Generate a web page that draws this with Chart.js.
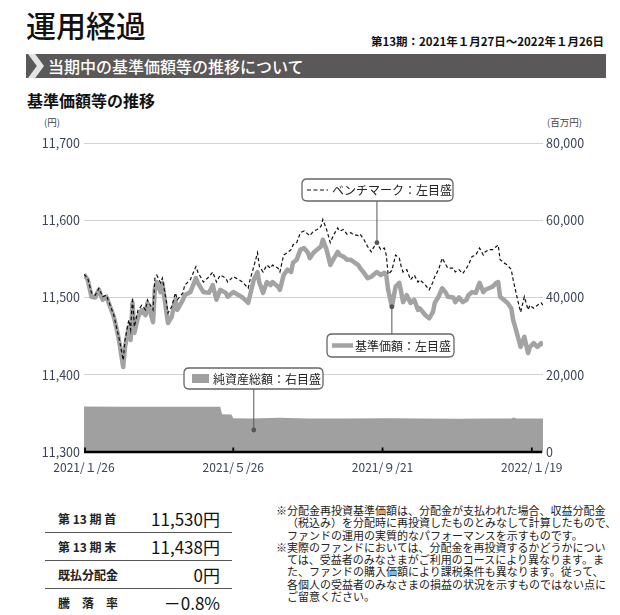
<!DOCTYPE html>
<html lang="ja">
<head>
<meta charset="utf-8">
<title>運用経過</title>
<script src="https://cdn.jsdelivr.net/npm/chart.js@4.4.0/dist/chart.umd.min.js"></script>
<style>
  body { margin: 0; background: #fff; font-family: "Noto Sans CJK JP", "Noto Sans", sans-serif; color: #111; }
  #page { position: relative; width: 620px; height: 615px; overflow: hidden; }
  .abs { position: absolute; white-space: nowrap; }
  #title { left: 26px; top: 6px; font-size: 30px; font-weight: 500; line-height: 36px; }
  #period { right: 16px; top: 34px; font-size: 11.5px; font-weight: 700; line-height: 14px; }
  #bar { left: 26px; top: 54px; width: 580px; height: 24px; background: #5a5858; }
  #chevron { left: 2px; top: 0; width: 16px; height: 24px; background: #e4e4e4;
    clip-path: polygon(0 0, 45% 0, 100% 50%, 45% 100%, 0 100%, 55% 50%); }
  #barText { left: 22px; top: 0; line-height: 24px; font-size: 16px; font-weight: 500; color: #fff; }
  #subTitle { left: 27px; top: 90px; font-size: 16px; font-weight: 700; line-height: 20px; }
  .unit { top: 116px; font-size: 9.5px; color: #444; line-height: 12px; }
  #chartBox { left: 0; top: 110px; width: 620px; height: 370px; }
  .row { left: 45px; width: 187px; height: 27px; }
  .row.line { border-bottom: 1px solid #555; }
  .row .lab { position: absolute; left: 13px; top: 0; line-height: 27px; font-size: 12px; font-weight: 700; color: #222; }
  .row .val { position: absolute; right: 12px; top: 0; line-height: 27px; font-size: 17px; color: #111; }
  #notes { left: 276px; top: 504px; width: 344px; font-size: 11px; line-height: 12.3px; color: #222; }
  #notes p { margin: 0; padding-left: 1em; text-indent: -1em; white-space: nowrap; }
</style>
</head>
<body>
<div id="page">
  <div id="title" class="abs">運用経過</div>
  <div id="period" class="abs">第13期：2021年１月27日～2022年１月26日</div>
  <div id="bar" class="abs">
    <div id="chevron" class="abs"></div>
    <div id="barText" class="abs">当期中の基準価額等の推移について</div>
  </div>
  <div id="subTitle" class="abs">基準価額等の推移</div>
  <div class="abs unit" style="left:44px;">(円)</div>
  <div class="abs unit" style="left:547px;">(百万円)</div>
  <div id="chartBox" class="abs"><canvas id="navChart"></canvas></div>

  <div class="abs row line" style="top:505px;"><span class="lab">第 13 期 首</span><span class="val">11,530円</span></div>
  <div class="abs row line" style="top:533px;"><span class="lab">第 13 期 末</span><span class="val">11,438円</span></div>
  <div class="abs row line" style="top:561px;"><span class="lab">既払分配金</span><span class="val">0円</span></div>
  <div class="abs row" style="top:589px;"><span class="lab">騰　落　率</span><span class="val">－0.8%</span></div>

  <div id="notes" class="abs">
    <p>※分配金再投資基準価額は、分配金が支払われた場合、収益分配金<br>（税込み）を分配時に再投資したものとみなして計算したもので、<br>ファンドの運用の実質的なパフォーマンスを示すものです。</p>
    <p>※実際のファンドにおいては、分配金を再投資するかどうかについ<br>ては、受益者のみなさまがご利用のコースにより異なります。ま<br>た、ファンドの購入価額により課税条件も異なります。従って、<br>各個人の受益者のみなさまの損益の状況を示すものではない点に<br>ご留意ください。</p>
  </div>
</div>

<script>
// Business-day index from 2021/1/26 (0) to 2022/1/26 (246)
const dayIdx = [0,2,4,6,8,10,12,14,16,18,19,21,22,24,25,26,27,29,31,33,34,37,38,39,41,42,44,45,47,49,
  50,53,54,57,60,61,64,67,69,71,73,76,77,80,83,85,88,89,91,93,94,96,98,100,101,104,105,107,109,111,
  112,114,116,118,120,121,123,125,127,128,130,132,134,136,137,139,141,143,144,147,148,150,152,154,155,157,159,161,162,163,
  165,167,169,170,171,173,175,177,179,180,183,185,187,188,190,192,194,195,198,199,201,203,205,206,208,210,212,214,215,217,
  219,221,222,223,225,227,229,230,232,234,236,238,239,241,243,245,246];

// 基準価額 (円)
const basePrice = [11530,11523,11501,11500,11510,11497,11501,11488,11475,11454,11441,11410,11436,11462,11445,11493,11454,11475,11484,11477,
  11493,11468,11512,11520,11507,11519,11484,11467,11475,11497,11484,11497,11503,11507,11525,11519,11507,11506,11516,11497,
  11510,11506,11501,11507,11503,11500,11493,11503,11523,11533,11519,11506,11520,11516,11520,11514,11510,11529,11536,11533,
  11545,11549,11562,11564,11558,11551,11558,11562,11566,11575,11562,11542,11551,11559,11555,11553,11549,11549,11547,11542,
  11538,11532,11525,11527,11529,11533,11529,11532,11529,11510,11488,11514,11519,11507,11494,11503,11493,11497,11484,11486,
  11477,11473,11481,11493,11501,11512,11506,11501,11500,11494,11500,11494,11497,11503,11507,11506,11519,11507,11510,11512,
  11514,11519,11520,11501,11497,11493,11486,11471,11454,11436,11449,11428,11436,11441,11436,11441,11438];

// ベンチマーク (円)
const benchmark = [11530,11525,11506,11503,11512,11501,11503,11490,11477,11455,11445,11419,11445,11471,11458,11500,11462,11484,11490,11484,
  11497,11484,11525,11529,11519,11525,11497,11480,11488,11506,11497,11506,11516,11523,11540,11533,11520,11527,11533,11520,
  11529,11525,11520,11527,11523,11520,11512,11523,11540,11558,11540,11533,11542,11538,11542,11538,11533,11555,11558,11562,
  11568,11571,11584,11586,11582,11580,11586,11588,11592,11601,11588,11571,11582,11590,11586,11588,11582,11584,11582,11580,
  11582,11575,11566,11559,11564,11571,11562,11564,11555,11530,11535,11555,11551,11540,11533,11536,11523,11529,11520,11523,
  11516,11510,11520,11527,11536,11551,11542,11538,11538,11533,11536,11531,11538,11542,11553,11555,11564,11555,11559,11562,
  11562,11566,11568,11549,11545,11542,11536,11523,11501,11481,11501,11484,11490,11486,11490,11493,11490];

// 純資産総額 (百万円)
const navIdx = [0,20,40,60,73,74,79,80,90,105,120,140,165,180,200,215,229,230,232,246];
const netAssets = [11750,11720,11700,11700,11700,9750,9700,8750,8700,8850,8700,8650,8750,8650,8600,8650,8650,8900,8650,8650];

// X axis ticks
const tickIdx = [0, 80, 160, 240];
const tickLabels = ['2021/１/26', '2021/５/26', '2021/９/21', '2022/１/19'];

const labelColor = '#3a4356';
const fontFamily = '"Noto Sans CJK JP", "Noto Sans", sans-serif';

function toPoints(xs, ys) {
    return xs.map((x, i) => ({ x: x, y: ys[i] }));
}

// Thick x axis line with short upward ticks
const axisLinePlugin = {
    id: 'axisLine',
    afterDatasetsDraw(chart) {
        const ctx = chart.ctx;
        const area = chart.chartArea;
        const xs = chart.scales.x;
        ctx.save();
        ctx.strokeStyle = '#000';
        ctx.lineWidth = 2.6;
        ctx.beginPath();
        ctx.moveTo(area.left, area.bottom);
        ctx.lineTo(area.right - 1, area.bottom);
        ctx.stroke();
        ctx.lineWidth = 1.8;
        tickIdx.forEach(v => {
            const px = xs.getPixelForValue(v) + (v === 0 ? 1 : 0);
            ctx.beginPath();
            ctx.moveTo(px, area.bottom);
            ctx.lineTo(px, area.bottom - 4.5);
            ctx.stroke();
        });
        ctx.restore();
    }
};

function roundRect(ctx, x, y, w, h, r) {
    ctx.beginPath();
    ctx.moveTo(x + r, y);
    ctx.lineTo(x + w - r, y);
    ctx.quadraticCurveTo(x + w, y, x + w, y + r);
    ctx.lineTo(x + w, y + h - r);
    ctx.quadraticCurveTo(x + w, y + h, x + w - r, y + h);
    ctx.lineTo(x + r, y + h);
    ctx.quadraticCurveTo(x, y + h, x, y + h - r);
    ctx.lineTo(x, y + r);
    ctx.quadraticCurveTo(x, y, x + r, y);
    ctx.closePath();
}

// Callout boxes with leader lines (legend of the original chart)
const calloutPlugin = {
    id: 'callouts',
    afterDraw(chart) {
        const ctx = chart.ctx;
        const xs = chart.scales.x;
        const y2 = chart.scales.y2;
        const benchPt = chart.getDatasetMeta(0).data[dayIdx.indexOf(157)];
        const basePt = chart.getDatasetMeta(1).data[dayIdx.indexOf(165)];
        const callouts = [
            { ax: benchPt.x, ay: benchPt.y, box: [302, 69, 151, 22], sample: 'dash', text: 'ベンチマーク：左目盛', tx: 332 },
            { ax: basePt.x, ay: basePt.y, box: [327, 224, 127, 23], sample: 'line', text: '基準価額：左目盛', tx: 355 },
            { ax: xs.getPixelForValue(91), ay: y2.getPixelForValue(5700), box: [184, 258, 139, 21], sample: 'rect', text: '純資産総額：右目盛', tx: 213 }
        ];
        ctx.save();
        callouts.forEach(c => {
            const [bx, by, bw, bh] = c.box;
            const edgeY = c.ay < by ? by : by + bh;
            ctx.strokeStyle = '#555';
            ctx.lineWidth = 1;
            ctx.beginPath();
            ctx.moveTo(c.ax, edgeY);
            ctx.lineTo(c.ax, c.ay);
            ctx.stroke();
            ctx.fillStyle = '#555';
            ctx.beginPath();
            ctx.arc(c.ax, c.ay, 2.4, 0, Math.PI * 2);
            ctx.fill();

            roundRect(ctx, bx, by, bw, bh, 5);
            ctx.fillStyle = '#fff';
            ctx.fill();
            ctx.strokeStyle = '#666';
            ctx.lineWidth = 1.3;
            ctx.stroke();

            const cy = by + bh / 2;
            if (c.sample === 'dash') {
                ctx.strokeStyle = '#111';
                ctx.lineWidth = 1.2;
                ctx.setLineDash([4, 2.5]);
                ctx.beginPath();
                ctx.moveTo(bx + 5, cy);
                ctx.lineTo(bx + 26, cy);
                ctx.stroke();
                ctx.setLineDash([]);
            } else if (c.sample === 'line') {
                ctx.strokeStyle = '#a3a3a3';
                ctx.lineWidth = 4.5;
                ctx.beginPath();
                ctx.moveTo(bx + 5, cy);
                ctx.lineTo(bx + 26, cy);
                ctx.stroke();
            } else {
                ctx.fillStyle = '#a0a0a0';
                ctx.fillRect(bx + 8, cy - 4.5, 17, 9);
            }
            ctx.fillStyle = '#222';
            ctx.font = '12px ' + fontFamily;
            ctx.textBaseline = 'middle';
            ctx.textAlign = 'left';
            ctx.fillText(c.text, c.tx, cy + 0.5);
        });
        ctx.restore();
    }
};

function initializeChart() {
    const ctx = document.getElementById('navChart').getContext('2d');
    window.navChart = new Chart(ctx, {
        type: 'line',
        data: {
            datasets: [{
                label: 'ベンチマーク',
                data: toPoints(dayIdx, benchmark),
                borderColor: '#111',
                borderWidth: 1.2,
                borderDash: [3.5, 2.5],
                pointRadius: 0,
                tension: 0,
                yAxisID: 'y',
                order: 0
            }, {
                label: '基準価額',
                data: toPoints(dayIdx, basePrice),
                borderColor: '#a3a3a3',
                borderWidth: 4.5,
                borderJoinStyle: 'round',
                pointRadius: 0,
                tension: 0,
                yAxisID: 'y',
                order: 1
            }, {
                label: '純資産総額',
                data: toPoints(navIdx, netAssets),
                borderWidth: 0,
                backgroundColor: '#a0a0a0',
                fill: 'origin',
                pointRadius: 0,
                tension: 0,
                yAxisID: 'y2',
                order: 2
            }]
        },
        options: {
            responsive: true,
            maintainAspectRatio: false,
            animation: false,
            layout: { padding: { top: 33, left: 0, right: 0, bottom: 0 } },
            plugins: {
                legend: { display: false },
                tooltip: { enabled: false }
            },
            scales: {
                x: {
                    type: 'linear',
                    min: 0,
                    max: 246,
                    grid: { display: false, drawTicks: false },
                    border: { display: false },
                    afterBuildTicks: scale => { scale.ticks = tickIdx.map(v => ({ value: v })); },
                    afterFit: scale => { scale.height = 28; },
                    ticks: {
                        color: labelColor,
                        font: { size: 12, family: fontFamily },
                        padding: 8,
                        maxRotation: 0,
                        autoSkip: false,
                        callback: value => tickLabels[tickIdx.indexOf(value)]
                    }
                },
                y: {
                    position: 'left',
                    min: 11300,
                    max: 11700,
                    grid: { color: '#d2d2d2', lineWidth: 1, drawTicks: false },
                    border: { display: false },
                    afterFit: scale => { scale.width = 84; },
                    ticks: {
                        stepSize: 100,
                        color: labelColor,
                        font: { size: 12.5, family: fontFamily },
                        padding: 4,
                        callback: value => value.toLocaleString('en-US')
                    }
                },
                y2: {
                    position: 'right',
                    min: 0,
                    max: 80000,
                    grid: { display: false, drawTicks: false },
                    border: { display: false },
                    afterFit: scale => { scale.width = 77; },
                    ticks: {
                        stepSize: 20000,
                        color: labelColor,
                        font: { size: 12.5, family: fontFamily },
                        padding: 3,
                        callback: value => value.toLocaleString('en-US')
                    }
                }
            }
        },
        plugins: [axisLinePlugin, calloutPlugin]
    });
}

document.addEventListener('DOMContentLoaded', initializeChart);
</script>
</body>
</html>
